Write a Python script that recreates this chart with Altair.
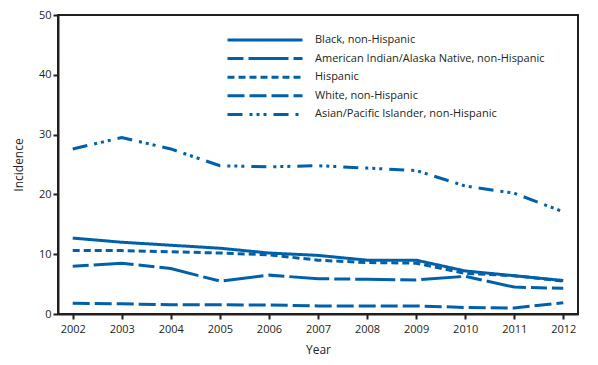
import altair as alt
import pandas as pd

years = list(range(2002, 2013))
series_names = [
    "Black, non-Hispanic",
    "American Indian/Alaska Native, non-Hispanic",
    "Hispanic",
    "White, non-Hispanic",
    "Asian/Pacific Islander, non-Hispanic",
]
black = [12.7, 12.0, 11.5, 11.0, 10.2, 9.8, 9.0, 9.0, 7.2, 6.4, 5.6]
aian = [8.0, 8.5, 7.6, 5.5, 6.5, 5.9, 5.8, 5.7, 6.3, 4.5, 4.3]
hispanic = [10.6, 10.6, 10.4, 10.2, 9.9, 9.0, 8.6, 8.5, 6.8, 6.4, 5.5]
white = [1.8, 1.7, 1.55, 1.55, 1.5, 1.35, 1.35, 1.35, 1.1, 1.0, 1.9]
asian = [27.6, 29.5, 27.6, 24.8, 24.6, 24.8, 24.4, 24.0, 21.4, 20.2, 17.1]
all_values = [black, aian, hispanic, white, asian]

rows = []
for name, vals in zip(series_names, all_values):
    for y, v in zip(years, vals):
        rows.append({"Year": y, "Incidence": v, "Group": name})
df = pd.DataFrame(rows)

dashes = [[1, 0], [16, 5, 40, 5], [7, 4], [17, 5, 17, 5], [15, 7, 3, 4, 3, 4, 3, 7]]
blue = "#0060A9"
ink = "#231f20"
font = "Open Sans"

chart = alt.Chart(df).mark_line(strokeWidth=3, color=blue, strokeCap="butt").encode(
    x=alt.X("Year:Q", scale=alt.Scale(domain=[2001.7, 2012.3], nice=False, zero=False),
            axis=alt.Axis(values=years, format="d", title="Year", grid=False,
                          tickSize=5, labelPadding=4, titlePadding=10)),
    y=alt.Y("Incidence:Q", scale=alt.Scale(domain=[0, 50], nice=False),
            axis=alt.Axis(values=[0, 10, 20, 30, 40, 50], title="Incidence", grid=False,
                          tickSize=5, labelPadding=2, titlePadding=13)),
    strokeDash=alt.StrokeDash("Group:N", sort=series_names,
                              scale=alt.Scale(domain=series_names, range=dashes),
                              legend=alt.Legend(orient="none", legendX=198, legendY=16, title=None,
                                                symbolType="M-5,0H5", symbolSize=225,
                                                symbolStrokeWidth=3, symbolStrokeColor=blue,
                                                symbolFillColor="transparent",
                                                labelFontSize=11, labelFont=font, labelColor=ink,
                                                labelLimit=0, padding=0,
                                                labelOffset=41, rowPadding=3.6)),
    detail="Group:N",
).properties(
    width=520, height=299,
    autosize=alt.AutoSizeParams(type="none"),
    padding={"left": 50, "top": 7, "right": 12, "bottom": 50},
).configure_view(
    stroke=ink, strokeWidth=2
).configure_axis(
    domainColor=ink, domainWidth=2, tickColor=ink, tickWidth=2,
    labelFont=font, labelFontSize=11, labelColor=ink,
    titleFont=font, titleFontSize=12, titleColor=ink, titleFontWeight="normal",
)

chart.save("out.html", embed_options={"renderer": "svg", "actions": False})
